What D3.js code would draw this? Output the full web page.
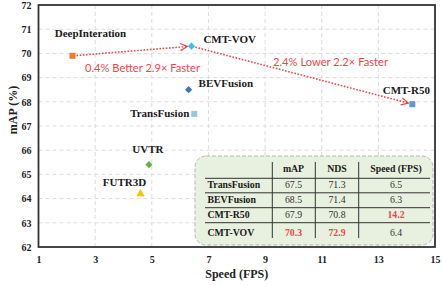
<!DOCTYPE html>
<html>
<head>
<meta charset="utf-8">
<script src="https://cdn.jsdelivr.net/npm/d3@7"></script>
<style>
  html, body { margin: 0; padding: 0; background: #fff; }
  svg { display: block; }
</style>
</head>
<body>
<div id="chart"></div>
<script>
// ---------- data ----------
const methods = ["DeepInteration", "CMT-VOV", "BEVFusion", "TransFusion", "CMT-R50", "UVTR", "FUTR3D"];
const speedFPS = [2.2, 6.4, 6.3, 6.5, 14.2, 4.9, 4.6];
const mapPct = [69.9, 70.3, 68.5, 67.5, 67.9, 65.4, 64.2];

const xTicks = [1, 3, 5, 7, 9, 11, 13, 15];
const yTicks = [62, 63, 64, 65, 66, 67, 68, 69, 70, 71, 72];

const arrowPairs = [["DeepInteration", "CMT-VOV"], ["CMT-VOV", "CMT-R50"]];
const arrowTexts = ["0.4% Better 2.9× Faster", "2.4% Lower 2.2× Faster"];

const tableHeader = ["", "mAP", "NDS", "Speed (FPS)"];
const tableMethods = ["TransFusion", "BEVFusion", "CMT-R50", "CMT-VOV"];
const tableMap = ["67.5", "68.5", "67.9", "70.3"];
const tableNds = ["71.3", "71.4", "70.8", "72.9"];
const tableSpeed = ["6.5", "6.3", "14.2", "6.4"];
const tableBest = [[3, 1], [3, 2], [2, 3]]; // [row, col] highlighted in red

// ---------- styles ----------
const markerStyle = {
  "DeepInteration": { shape: d3.symbolSquare, rot: 0, color: "#ed7d31", size: 36 },
  "CMT-VOV": { shape: d3.symbolSquare, rot: 45, color: "#33bff0", size: 26 },
  "BEVFusion": { shape: d3.symbolSquare, rot: 45, color: "#4472c4", size: 26 },
  "TransFusion": { shape: d3.symbolSquare, rot: 0, color: "#9dc3e6", size: 36 },
  "CMT-R50": { shape: d3.symbolSquare, rot: 0, color: "#5b9bd5", size: 36 },
  "UVTR": { shape: d3.symbolSquare, rot: 45, color: "#70ad47", size: 26 },
  "FUTR3D": { shape: d3.symbolTriangle, rot: 0, color: "#ffc000", size: 30 }
};
// label offsets relative to point (dx, dy, anchor)
const labelPlace = {
  "DeepInteration": [18, -19, "middle"],
  "CMT-VOV": [12, -3, "start"],
  "BEVFusion": [10, -3, "start"],
  "TransFusion": [-5, 3, "end"],
  "CMT-R50": [-6, -10, "middle"],
  "UVTR": [-1, -12, "middle"],
  "FUTR3D": [-16, -8, "middle"]
};
const textPlace = [[85, 72], [273, 66]];

const W = 443, H = 285;
const m = { left: 38.5, right: 8, top: 5, bottom: 38 };
const serif = "'Liberation Serif', 'Times New Roman', serif";
const red = "#f0464b";

const svg = d3.select("#chart").append("svg").attr("width", W).attr("height", H);

const x = d3.scaleLinear().domain([1, 15]).range([m.left, W - m.right]);
const y = d3.scaleLinear().domain([62, 72]).range([H - m.bottom, m.top]);

// grid
const grid = svg.append("g");
grid.selectAll(".gx").data(xTicks.slice(1, -1)).join("line")
  .attr("x1", d => x(d)).attr("x2", d => x(d))
  .attr("y1", y(62)).attr("y2", y(72))
  .attr("stroke", "#dcdcdc").attr("stroke-width", 1).attr("stroke-dasharray", "4,3");
grid.selectAll(".gy").data(yTicks.slice(1, -1)).join("line")
  .attr("x1", x(1)).attr("x2", x(15))
  .attr("y1", d => y(d)).attr("y2", d => y(d))
  .attr("stroke", "#dcdcdc").attr("stroke-width", 1).attr("stroke-dasharray", "4,3");

// axes
const xAxis = svg.append("g").attr("transform", `translate(0,${y(62)})`)
  .call(d3.axisBottom(x).tickValues(xTicks).tickSize(0).tickPadding(9).tickFormat(d3.format("d")));
const yAxis = svg.append("g").attr("transform", `translate(${x(1)},0)`)
  .call(d3.axisLeft(y).tickValues(yTicks).tickSize(0).tickPadding(7).tickFormat(d3.format("d")));
[xAxis, yAxis].forEach(a => {
  a.select(".domain").remove();
  a.selectAll("text").attr("font-family", serif).attr("font-weight", "bold")
    .attr("font-size", 10).attr("fill", "#222");
});

// frame
svg.append("rect")
  .attr("x", x(1)).attr("y", y(72))
  .attr("width", x(15) - x(1)).attr("height", y(62) - y(72))
  .attr("fill", "none").attr("stroke", "#333").attr("stroke-width", 1.8);

// axis titles
svg.append("text").attr("x", (x(1) + x(15)) / 2).attr("y", 278)
  .attr("text-anchor", "middle").attr("font-family", serif).attr("font-weight", "bold")
  .attr("font-size", 12).attr("fill", "#222").text("Speed (FPS)");
svg.append("text").attr("transform", "translate(17,110) rotate(-90)")
  .attr("text-anchor", "middle").attr("font-family", serif).attr("font-weight", "bold")
  .attr("font-size", 12).attr("fill", "#222").text("mAP (%)");

// arrows
const defs = svg.append("defs");
defs.append("marker").attr("id", "arr").attr("viewBox", "0 0 10 10")
  .attr("refX", 9).attr("refY", 5).attr("markerWidth", 9).attr("markerHeight", 9)
  .attr("markerUnits", "userSpaceOnUse").attr("orient", "auto")
  .append("path").attr("d", "M1,1 L9,5 L1,9").attr("fill", "none")
  .attr("stroke", red).attr("stroke-width", 1.4);

const idx = name => methods.indexOf(name);
arrowPairs.forEach(([a, b]) => {
  const x1 = x(speedFPS[idx(a)]), y1 = y(mapPct[idx(a)]);
  const x2 = x(speedFPS[idx(b)]), y2 = y(mapPct[idx(b)]);
  const len = Math.hypot(x2 - x1, y2 - y1);
  const ux = (x2 - x1) / len, uy = (y2 - y1) / len;
  svg.append("line")
    .attr("x1", x1 + ux * 4).attr("y1", y1 + uy * 4)
    .attr("x2", x2 - ux * 4).attr("y2", y2 - uy * 4)
    .attr("stroke", red).attr("stroke-width", 1.6).attr("stroke-dasharray", "1.6,1.6")
    .attr("marker-end", "url(#arr)");
});
arrowTexts.forEach((t, i) => {
  svg.append("text").attr("x", textPlace[i][0]).attr("y", textPlace[i][1])
    .attr("font-family", "Lato, 'Open Sans', sans-serif").attr("font-size", 11.5)
    .attr("fill", red).attr("textLength", 115).attr("lengthAdjust", "spacingAndGlyphs").text(t);
});

// points
methods.forEach((name, i) => {
  const s = markerStyle[name];
  svg.append("path")
    .attr("d", d3.symbol().type(s.shape).size(s.size)())
    .attr("transform", `translate(${x(speedFPS[i])},${y(mapPct[i])}) rotate(${s.rot})`)
    .attr("fill", s.color);
  const p = labelPlace[name];
  svg.append("text")
    .attr("x", x(speedFPS[i]) + p[0]).attr("y", y(mapPct[i]) + p[1])
    .attr("text-anchor", p[2]).attr("font-family", serif).attr("font-weight", "bold")
    .attr("font-size", 11).attr("fill", "#1a1a1a").text(name);
});

// table
const tb = { x: 195, y: 156, w: 238, h: 89 };
svg.append("rect").attr("x", tb.x).attr("y", tb.y).attr("width", tb.w).attr("height", tb.h)
  .attr("rx", 11).attr("fill", "#e8f0df").attr("stroke", "#b5b5b5")
  .attr("stroke-width", 1).attr("stroke-dasharray", "4,2");

const colX = [207.5, 293.5, 337, 396];        // text positions
const colAnchor = ["start", "middle", "middle", "middle"];
const vLines = [272.3, 315.3, 358.7];
const hLines = [178.3, 192.8, 207.7, 222.7];
const rowBase = [172.3, 188.3, 203.3, 218.3, 236];

vLines.forEach(v => svg.append("line").attr("x1", v).attr("x2", v)
  .attr("y1", 162).attr("y2", 238).attr("stroke", "#333").attr("stroke-width", 1));
hLines.forEach(h => svg.append("line").attr("x1", 205).attr("x2", 430)
  .attr("y1", h).attr("y2", h).attr("stroke", "#333").attr("stroke-width", 1));

tableHeader.forEach((t, c) => {
  svg.append("text").attr("x", colX[c]).attr("y", rowBase[0]).attr("text-anchor", colAnchor[c])
    .attr("font-family", serif).attr("font-weight", "bold").attr("font-size", 9.8)
    .attr("fill", "#1a1a1a").text(t);
});
const cols = [tableMethods, tableMap, tableNds, tableSpeed];
tableMethods.forEach((_, r) => {
  cols.forEach((col, c) => {
    const best = tableBest.some(([br, bc]) => br === r && bc === c);
    svg.append("text").attr("x", colX[c]).attr("y", rowBase[r + 1]).attr("text-anchor", colAnchor[c])
      .attr("font-family", serif)
      .attr("font-weight", (c === 0 || best) ? "bold" : "normal")
      .attr("font-size", 9.8)
      .attr("fill", best ? red : (c === 0 ? "#1a1a1a" : "#333"))
      .text(col[r]);
  });
});
</script>
</body>
</html>
